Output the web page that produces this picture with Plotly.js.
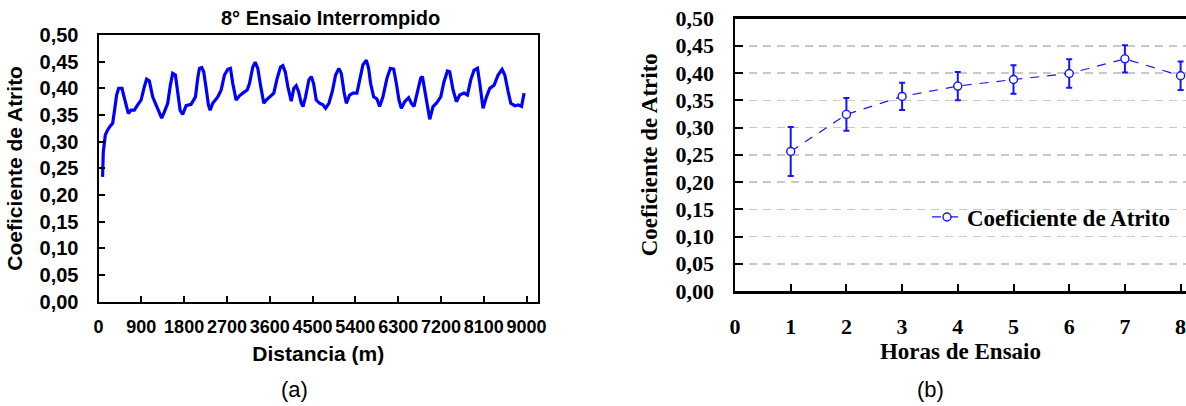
<!DOCTYPE html>
<html>
<head>
<meta charset="utf-8">
<script src="https://cdn.plot.ly/plotly-3.0.1.min.js"></script>
<style>
  html, body { margin: 0; padding: 0; background: #ffffff; }
  #chart { width: 1186px; height: 406px; }
</style>
</head>
<body>
<div id="chart"></div>
<script>
// ---- Chart (a): friction coefficient vs distance ----
var distance = [86,101,143,192,263,297,333,381,423,495,
  528,579,627,684,754,823,895,964,1012,1069,
  1139,1210,1280,1328,1385,1455,1511,1560,1617,1665,
  1716,1770,1842,1947,2038,2086,2122,2170,2212,2263,
  2311,2347,2402,2507,2579,2648,2718,2774,2823,2894,
  2964,3033,3126,3174,3244,3294,3349,3406,3475,3526,
  3595,3686,3757,3827,3875,3926,3981,4052,4107,4157,
  4206,4263,4300,4353,4423,4473,4522,4578,4648,4717,
  4774,4844,4915,4985,5054,5105,5160,5210,5280,5349,
  5433,5490,5559,5631,5679,5721,5785,5854,5911,5980,
  6065,6136,6206,6262,6317,6368,6437,6521,6578,6633,
  6704,6774,6810,6858,6915,6964,7033,7104,7195,7264,
  7336,7384,7454,7525,7594,7685,7757,7826,7896,7968,
  8016,8085,8157,8226,8317,8401,8485,8542,8612,8668,
  8753,8822,8894,8927,8948];
var coefDistance = [0.234,0.281,0.3125,0.322,0.331,0.334,0.356,0.3875,0.400,0.400,
  0.3875,0.366,0.353,0.359,0.359,0.369,0.378,0.403,0.4175,0.414,
  0.384,0.369,0.356,0.344,0.356,0.372,0.406,0.428,0.425,0.3875,
  0.359,0.351,0.3675,0.370,0.384,0.419,0.4375,0.439,0.431,0.400,
  0.369,0.359,0.372,0.384,0.397,0.425,0.4356,0.4375,0.409,0.378,
  0.386,0.391,0.397,0.409,0.440,0.449,0.4375,0.406,0.372,0.378,
  0.384,0.391,0.419,0.440,0.4425,0.431,0.403,0.376,0.400,0.405,
  0.394,0.372,0.366,0.384,0.416,0.422,0.409,0.378,0.372,0.369,
  0.3625,0.372,0.394,0.425,0.4375,0.428,0.394,0.372,0.3875,0.391,
  0.391,0.4125,0.444,0.453,0.4375,0.409,0.384,0.380,0.366,0.384,
  0.419,0.4375,0.436,0.409,0.378,0.3625,0.375,0.3825,0.372,0.366,
  0.391,0.419,0.422,0.397,0.3625,0.342,0.366,0.372,0.384,0.4125,
  0.4325,0.431,0.397,0.375,0.3875,0.391,0.3875,0.416,0.434,0.4375,
  0.409,0.3625,0.384,0.400,0.406,0.425,0.4356,0.425,0.394,0.372,
  0.3675,0.369,0.366,0.381,0.391];
var distTickVals = [0,900,1800,2700,3600,4500,5400,6300,7200,8100,9000];
var distTickText = ["0","900","1800","2700","3600","4500","5400","6300","7200","8100","9000"];

// ---- Chart (b): friction coefficient vs test hours ----
var hours = [1,2,3,4,5,6,7,8];
var coefMean = [0.256,0.324,0.357,0.376,0.388,0.399,0.426,0.395];
var coefErr = [0.045,0.030,0.025,0.026,0.026,0.026,0.025,0.026];
var hourTickVals = [0,1,2,3,4,5,6,7,8];
var hourTickText = ["0","1","2","3","4","5","6","7","8"];

// shared y ticks
var coefTickVals = [0,0.05,0.10,0.15,0.20,0.25,0.30,0.35,0.40,0.45,0.50];
var coefTickText = ["0,00","0,05","0,10","0,15","0,20","0,25","0,30","0,35","0,40","0,45","0,50"];

var titleA = "8° Ensaio Interrompido";
var xTitleA = "Distancia (m)";
var yTitle = "Coeficiente de Atrito";
var xTitleB = "Horas de Ensaio";
var seriesB = "Coeficiente de Atrito";

var sans = "Liberation Sans, Arial, Helvetica, sans-serif";
var serif = "Liberation Serif, Times New Roman, serif";
var blue = "#0000ff";
var blueB = "#1414ff";

var traces = [
  {
    x: distance, y: coefDistance, xaxis: "x", yaxis: "y",
    type: "scatter", mode: "lines",
    line: {color: blue, width: 3.2},
    showlegend: false, hoverinfo: "skip"
  },
  {
    x: hours, y: coefMean, xaxis: "x2", yaxis: "y2",
    type: "scatter", mode: "lines+markers", name: seriesB,
    line: {color: blueB, width: 1.2, dash: "9px,8px"},
    marker: {symbol: "circle", size: 8, color: "#ffffff", line: {color: blueB, width: 1.4}},
    error_y: {type: "data", array: coefErr, visible: true, color: blueB, thickness: 2, width: 3},
    showlegend: true
  }
];

var layout = {
  width: 1186, height: 406,
  margin: {l: 0, r: 0, t: 0, b: 0},
  paper_bgcolor: "#ffffff", plot_bgcolor: "rgba(0,0,0,0)",
  showlegend: true,
  xaxis: {
    domain: [98.5/1186, 538/1186], range: [0, 9240], anchor: "y",
    tickvals: distTickVals, ticktext: distTickText,
    ticks: "inside", ticklen: 6, tickwidth: 2, tickcolor: "#000",
    showline: true, linewidth: 2, linecolor: "#000", mirror: true,
    showgrid: false, zeroline: false, ticklabelstandoff: 8,
    tickfont: {family: sans, size: 18, weight: "bold", color: "#000"},
    title: {text: xTitleA, standoff: 10, font: {family: sans, size: 21, weight: "bold", color: "#000"}}
  },
  yaxis: {
    domain: [(406-301.7)/406, (406-35)/406], range: [0, 0.5], anchor: "x",
    tickvals: coefTickVals, ticktext: coefTickText,
    ticks: "inside", ticklen: 6, tickwidth: 2, tickcolor: "#000",
    showline: true, linewidth: 2, linecolor: "#000", mirror: true,
    showgrid: false, zeroline: false, ticklabelstandoff: 14,
    tickfont: {family: sans, size: 20, weight: "bold", color: "#000"},
    title: {text: yTitle, standoff: 11, font: {family: sans, size: 21, weight: "bold", color: "#000"}}
  },
  xaxis2: {
    domain: [735/1186, 1], range: [0, 8.097], anchor: "y2",
    tickvals: hourTickVals, ticktext: hourTickText,
    ticks: "inside", ticklen: 7, tickwidth: 2, tickcolor: "#000",
    showline: true, linewidth: 2.5, linecolor: "#000", mirror: true,
    showgrid: false, zeroline: false, ticklabelstandoff: 14,
    ticklabeloverflow: "allow",
    tickfont: {family: serif, size: 22, weight: "bold", color: "#000"},
    title: {text: xTitleB, standoff: 5, font: {family: serif, size: 23, weight: "bold", color: "#000"}}
  },
  yaxis2: {
    domain: [(406-291)/406, (406-18.5)/406], range: [0, 0.5], anchor: "x2",
    tickvals: coefTickVals, ticktext: coefTickText,
    ticks: "inside", ticklen: 8, tickwidth: 2, tickcolor: "#000",
    showline: true, linewidth: 2.5, linecolor: "#000", mirror: false,
    showgrid: true, gridcolor: "#c8c8c8", gridwidth: 1.5, griddash: "8px,6px",
    zeroline: false, ticklabelstandoff: 14,
    tickfont: {family: serif, size: 22, weight: "bold", color: "#000"},
    title: {text: yTitle, standoff: 12, font: {family: serif, size: 23, weight: "bold", color: "#000"}}
  },
  legend: {
    x: 927/1186, xanchor: "left", y: (406-217)/406, yanchor: "middle",
    bgcolor: "rgba(0,0,0,0)", borderwidth: 0,
    font: {family: serif, size: 23, weight: "bold", color: "#000"}
  },
  annotations: [
    {text: titleA, xref: "paper", yref: "paper", x: 330/1186, y: (406-18)/406,
     xanchor: "center", yanchor: "middle", showarrow: false,
     font: {family: sans, size: 20, weight: "bold", color: "#000"}},
    {text: "(a)", xref: "paper", yref: "paper", x: 294/1186, y: (406-389)/406,
     xanchor: "center", yanchor: "middle", showarrow: false,
     font: {family: sans, size: 22, color: "#000"}},
    {text: "(b)", xref: "paper", yref: "paper", x: 930/1186, y: (406-389)/406,
     xanchor: "center", yanchor: "middle", showarrow: false,
     font: {family: sans, size: 22, color: "#000"}}
  ]
};

Plotly.newPlot("chart", traces, layout, {staticPlot: true, displayModeBar: false});
</script>
</body>
</html>
